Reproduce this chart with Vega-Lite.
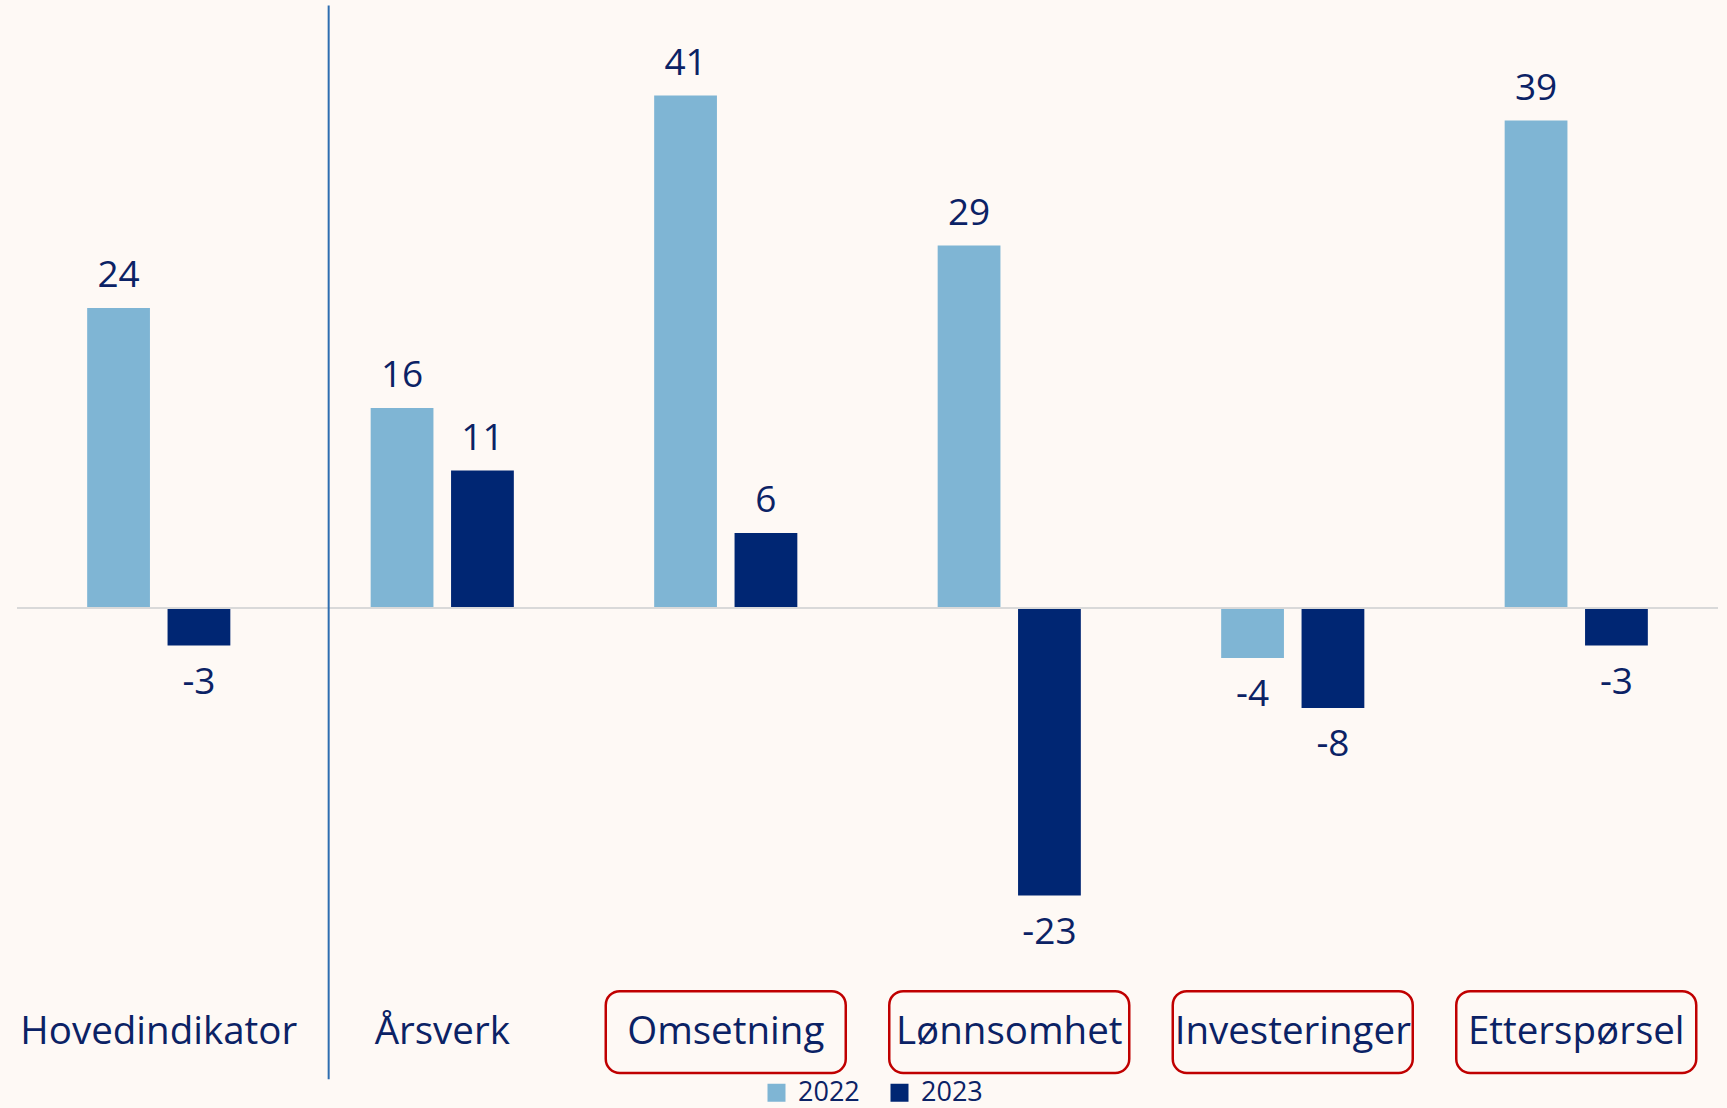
{
  "$schema": "https://vega.github.io/schema/vega-lite/v6.json",
  "autosize": {"type": "none"},
  "width": 1701,
  "height": 1083,
  "padding": {"left": 17, "top": 0, "right": 9, "bottom": 25},
  "background": "#FEF9F5",
  "config": {
    "view": {"stroke": null},
    "font": "Open Sans"
  },
  "datasets": {
    "main": [
      {"category": "Hovedindikator", "year": "2022", "value": 24},
      {"category": "Hovedindikator", "year": "2023", "value": -3},
      {"category": "Årsverk", "year": "2022", "value": 16},
      {"category": "Årsverk", "year": "2023", "value": 11},
      {"category": "Omsetning", "year": "2022", "value": 41},
      {"category": "Omsetning", "year": "2023", "value": 6},
      {"category": "Lønnsomhet", "year": "2022", "value": 29},
      {"category": "Lønnsomhet", "year": "2023", "value": -23},
      {"category": "Investeringer", "year": "2022", "value": -4},
      {"category": "Investeringer", "year": "2023", "value": -8},
      {"category": "Etterspørsel", "year": "2022", "value": 39},
      {"category": "Etterspørsel", "year": "2023", "value": -3}
    ],
    "boxed": [
      {"category": "Omsetning"},
      {"category": "Lønnsomhet"},
      {"category": "Investeringer"},
      {"category": "Etterspørsel"}
    ],
    "separator": [{"category": "Årsverk"}],
    "zero": [{"value": 0}]
  },
  "data": {"name": "main"},
  "encoding": {
    "x": {
      "field": "category",
      "type": "nominal",
      "sort": null,
      "scale": {
        "domain": ["Hovedindikator", "Årsverk", "Omsetning", "Lønnsomhet", "Investeringer", "Etterspørsel"],
        "paddingInner": 0.495,
        "paddingOuter": 0.2475
      },
      "axis": null
    }
  },
  "layer": [
    {
      "mark": {"type": "bar"},
      "encoding": {
        "xOffset": {"field": "year", "type": "nominal", "scale": {"paddingInner": 0.219, "paddingOuter": 0}},
        "y": {"field": "value", "type": "quantitative", "scale": {"domain": [-38, 48.64], "nice": false, "zero": false}, "axis": null},
        "color": {
          "field": "year",
          "type": "nominal",
          "scale": {"domain": ["2022", "2023"], "range": ["#7FB5D4", "#002673"]},
          "legend": {
            "title": null,
            "orient": "none",
            "legendX": 746,
            "legendY": 1079,
            "direction": "horizontal",
            "symbolType": "square",
            "symbolSize": 324,
            "symbolStrokeWidth": 0,
            "labelFontSize": 27,
            "labelColor": "#0B2265",
            "labelFont": "Open Sans",
            "labelOffset": 8,
            "columnPadding": 26,
            "padding": 0
          }
        }
      }
    },
    {
      "transform": [{"filter": "datum.value >= 0"}],
      "mark": {"type": "text", "baseline": "alphabetic", "dy": -21, "fontSize": 37, "color": "#0B2265"},
      "encoding": {
        "xOffset": {"field": "year", "type": "nominal"},
        "y": {"field": "value", "type": "quantitative"},
        "text": {"field": "value", "type": "nominal"}
      }
    },
    {
      "transform": [{"filter": "datum.value < 0"}],
      "mark": {"type": "text", "baseline": "alphabetic", "dy": 48, "fontSize": 37, "color": "#0B2265"},
      "encoding": {
        "xOffset": {"field": "year", "type": "nominal"},
        "y": {"field": "value", "type": "quantitative"},
        "text": {"field": "value", "type": "nominal"}
      }
    },
    {
      "data": {"name": "zero"},
      "mark": {"type": "rule", "color": "#D9D9D9", "strokeWidth": 2},
      "encoding": {
        "x": null,
        "y": {"field": "value", "type": "quantitative"}
      }
    },
    {
      "data": {"name": "separator"},
      "mark": {"type": "rule", "color": "#2E6DB0", "strokeWidth": 2, "xOffset": -42},
      "encoding": {
        "x": {"field": "category", "type": "nominal", "bandPosition": 0},
        "y": {"datum": 48.2},
        "y2": {"datum": -37.7}
      }
    },
    {
      "data": {"name": "boxed"},
      "mark": {"type": "bar", "width": 240, "fill": null, "fillOpacity": 0, "stroke": "#C00000", "strokeWidth": 2.5, "cornerRadius": 14},
      "encoding": {
        "y": {"datum": -30.65},
        "y2": {"datum": -37.2}
      }
    },
    {
      "transform": [{"filter": "datum.year == '2022'"}],
      "mark": {"type": "text", "baseline": "alphabetic", "fontSize": 38.5, "color": "#0B2265"},
      "encoding": {
        "y": {"datum": -34.9},
        "text": {"field": "category", "type": "nominal"}
      }
    }
  ]
}
